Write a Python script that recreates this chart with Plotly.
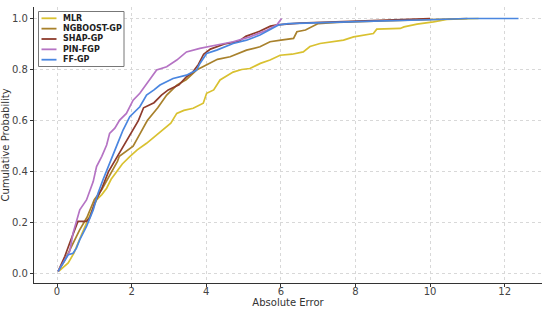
import plotly.graph_objects as go

# absolute error vs cumulative probability
mlr_x = [0.05, 0.2, 0.3, 0.45, 0.52, 0.65, 0.79, 0.92, 1.06, 1.2, 1.33, 1.45, 1.59, 1.75, 1.95, 2.15,
         2.4, 2.6, 2.85, 3.05, 3.21, 3.4, 3.65, 3.92, 4.01, 4.2, 4.37, 4.55, 4.72, 4.95, 5.17, 5.45,
         5.71, 5.98, 6.3, 6.6, 6.78, 7.05, 7.68, 7.95, 8.48, 8.57, 9.2, 9.3, 9.65, 10.09, 10.45, 10.99, 11.3]
mlr_y = [0.01, 0.03, 0.042, 0.08, 0.107, 0.15, 0.198, 0.245, 0.289, 0.31, 0.335, 0.37, 0.40, 0.43, 0.459, 0.485,
         0.511, 0.535, 0.563, 0.59, 0.628, 0.64, 0.648, 0.668, 0.707, 0.72, 0.759, 0.775, 0.79, 0.80, 0.804, 0.824,
         0.837, 0.856, 0.86, 0.869, 0.89, 0.902, 0.915, 0.928, 0.941, 0.958, 0.961, 0.967, 0.978, 0.987, 0.996, 0.999, 1.0]

ngb_x = [0.03, 0.2, 0.4, 0.6, 0.8, 1.0, 1.2, 1.48, 1.62, 1.67, 1.85, 2.04, 2.23, 2.42, 2.7, 2.94, 3.22, 3.46,
         3.74, 4.1, 4.3, 4.64, 5.08, 5.44, 5.71, 6.0, 6.34, 6.43, 6.66, 7.0, 7.5, 8.5, 9.5, 10.5, 11.0]
ngb_y = [0.009, 0.05, 0.11, 0.17, 0.22, 0.29, 0.33, 0.40, 0.44, 0.46, 0.48, 0.50, 0.55, 0.60, 0.65, 0.70, 0.74, 0.76,
         0.798, 0.824, 0.84, 0.85, 0.876, 0.889, 0.909, 0.915, 0.922, 0.948, 0.955, 0.98, 0.985, 0.99, 0.993, 0.997, 1.0]

shap_x = [0.03, 0.21, 0.34, 0.48, 0.56, 0.79, 0.88, 1.01, 1.19, 1.38, 1.62, 1.8, 1.99, 2.18, 2.32, 2.6, 2.8, 2.98,
          3.27, 3.46, 3.64, 3.79, 3.93, 4.11, 4.49, 4.87, 5.06, 5.43, 5.72, 5.9, 6.5, 8.0, 9.0, 10.0]
shap_y = [0.009, 0.068, 0.12, 0.172, 0.205, 0.205, 0.22, 0.277, 0.33, 0.40, 0.46, 0.50, 0.55, 0.60, 0.65, 0.67, 0.70, 0.72,
          0.74, 0.77, 0.79, 0.82, 0.86, 0.88, 0.90, 0.91, 0.93, 0.95, 0.97, 0.975, 0.982, 0.99, 0.995, 1.0]

pin_x = [0.03, 0.16, 0.25, 0.34, 0.43, 0.52, 0.61, 0.79, 0.97, 1.06, 1.2, 1.33, 1.41, 1.55, 1.68, 1.86, 2.04,
         2.22, 2.49, 2.67, 2.94, 3.21, 3.47, 3.83, 4.28, 4.72, 5.17, 5.62, 5.89, 5.98, 6.02]
pin_y = [0.009, 0.042, 0.07, 0.087, 0.159, 0.2, 0.25, 0.289, 0.361, 0.42, 0.46, 0.504, 0.55, 0.57, 0.602, 0.628, 0.68,
         0.707, 0.759, 0.798, 0.811, 0.837, 0.869, 0.883, 0.896, 0.909, 0.928, 0.954, 0.974, 0.99, 1.0]

ff_x = [0.03, 0.16, 0.3, 0.43, 0.52, 0.61, 0.79, 0.97, 1.1, 1.23, 1.46, 1.59, 1.77, 1.95, 2.22, 2.4, 2.6, 2.76,
        3.11, 3.47, 3.74, 3.83, 4.01, 4.28, 4.72, 5.08, 5.44, 5.8, 5.95, 6.2, 7.2, 8.5, 10.0, 11.0, 12.37]
ff_y = [0.009, 0.042, 0.074, 0.08, 0.1, 0.133, 0.185, 0.25, 0.315, 0.367, 0.446, 0.498, 0.563, 0.615, 0.654, 0.70, 0.72, 0.739,
        0.765, 0.778, 0.798, 0.824, 0.863, 0.876, 0.902, 0.915, 0.935, 0.961, 0.975, 0.98, 0.985, 0.99, 0.995, 1.0, 1.0]

series = [
    ("MLR", mlr_x, mlr_y, "#d9c130"),
    ("NGBOOST-GP", ngb_x, ngb_y, "#a8812c"),
    ("SHAP-GP", shap_x, shap_y, "#8e3b2c"),
    ("PIN-FGP", pin_x, pin_y, "#b573c4"),
    ("FF-GP", ff_x, ff_y, "#4a86e0"),
]

W, H = 550, 310
ML, MR, MT, MB = 34, 8, 7, 27
pw, ph = W - ML - MR, H - MT - MB

fig = go.Figure()
for name, xs, ys, col in series:
    fig.add_trace(go.Scatter(x=xs, y=ys, name=name, mode="lines",
                             line=dict(color=col, width=1.7), showlegend=False))

# compact matplotlib-style legend box (plotly's own legend rows are too tall)
def px_x(p):
    return (p - ML) / pw

def px_y(p):
    return 1 - (p - MT) / ph

fig.add_shape(type="rect", xref="paper", yref="paper",
              x0=px_x(38.5), x1=px_x(124), y0=px_y(66.5), y1=px_y(11.5),
              line=dict(color="#777", width=1), fillcolor="white", layer="above")
for i, (name, _, _, col) in enumerate(series):
    yc = 18.3 + i * 10.35
    fig.add_shape(type="line", xref="paper", yref="paper",
                  x0=px_x(41.5), x1=px_x(56.5), y0=px_y(yc), y1=px_y(yc),
                  line=dict(color=col, width=1.8), layer="above")
    fig.add_annotation(xref="paper", yref="paper", x=px_x(61), y=px_y(yc),
                       text="<b>" + name + "</b>", showarrow=False,
                       xanchor="left", yanchor="middle",
                       font=dict(size=8, color="#222", family="DejaVu Sans"))

axis_common = dict(showgrid=True, gridcolor="#d8d8d8", griddash="dot", gridwidth=1,
                   zeroline=False, showline=True, linecolor="#333", linewidth=1.2,
                   ticks="outside", ticklen=3, tickcolor="#333", automargin=False,
                   tickfont=dict(size=10, color="#444"))

fig.update_xaxes(range=[-0.617, 13.0], tickvals=[0, 2, 4, 6, 8, 10, 12], ticklabelstandoff=-4,
                 title=dict(text="Absolute Error", font=dict(size=10, color="#333"), standoff=0),
                 **axis_common)
fig.update_yaxes(range=[-0.0365, 1.045], tickvals=[0, 0.2, 0.4, 0.6, 0.8, 1.0], tickformat=".1f",
                 title=dict(text="Cumulative Probability", font=dict(size=10, color="#333"), standoff=0),
                 **axis_common)

fig.update_layout(
    width=W, height=H,
    margin=dict(l=ML, r=MR, t=MT, b=MB),
    paper_bgcolor="white", plot_bgcolor="white",
    font=dict(family="DejaVu Sans", color="#333"),
)

# drop the browser's default 8px page margin so the figure sits at the window corner
fig.write_html("out.html", config={"displayModeBar": False},
               post_script="document.body.style.margin='0';")
